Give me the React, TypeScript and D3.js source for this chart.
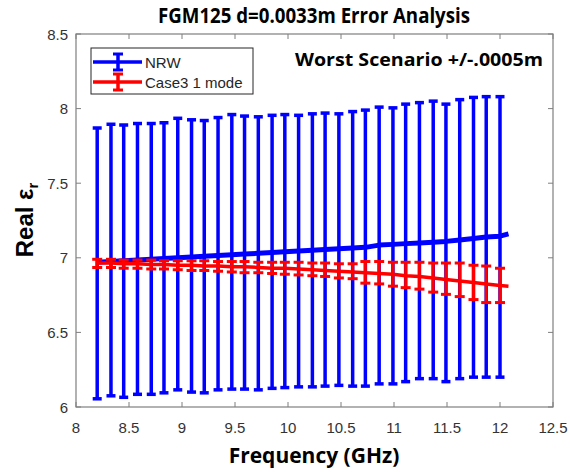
import React from "react";
import * as d3 from "d3";

const title = "FGM125 d=0.0033m Error Analysis";
const annotation = "Worst Scenario +/-.0005m";
const xLabel = "Frequency (GHz)";
const seriesNames = ["NRW", "Case3 1 mode"];

const xTicks = [8, 8.5, 9, 9.5, 10, 10.5, 11, 11.5, 12, 12.5];
const yTicks = [6, 6.5, 7, 7.5, 8, 8.5];

// frequencies at which the error bars are drawn
const barFreqs = [8.2, 8.33, 8.45, 8.58, 8.71, 8.83, 8.96, 9.09, 9.21, 9.34, 9.47, 9.59, 9.72, 9.85, 9.97, 10.1, 10.23, 10.35, 10.48, 10.61, 10.73, 10.86, 10.99, 11.11, 11.24, 11.37, 11.49, 11.62, 11.75, 11.87, 12.0];
// frequencies of the line points (bar points plus the last sample)
const lineFreqs = [8.2, 8.33, 8.45, 8.58, 8.71, 8.83, 8.96, 9.09, 9.21, 9.34, 9.47, 9.59, 9.72, 9.85, 9.97, 10.1, 10.23, 10.35, 10.48, 10.61, 10.73, 10.86, 10.99, 11.11, 11.24, 11.37, 11.49, 11.62, 11.75, 11.87, 12.0, 12.08];

const nrwLine = [6.97, 6.975, 6.98, 6.985, 6.99, 6.995, 7.0, 7.005, 7.01, 7.015, 7.02, 7.025, 7.03, 7.035, 7.04, 7.045, 7.05, 7.055, 7.06, 7.065, 7.07, 7.085, 7.09, 7.095, 7.1, 7.105, 7.11, 7.12, 7.13, 7.14, 7.145, 7.16];
const nrwUpper = [7.87, 7.895, 7.89, 7.9, 7.9, 7.905, 7.935, 7.925, 7.92, 7.94, 7.96, 7.95, 7.945, 7.955, 7.96, 7.955, 7.965, 7.97, 7.965, 7.98, 7.99, 8.01, 8.005, 8.03, 8.04, 8.05, 8.03, 8.06, 8.075, 8.08, 8.08];
const nrwLower = [6.055, 6.075, 6.065, 6.085, 6.085, 6.095, 6.115, 6.1, 6.095, 6.115, 6.12, 6.12, 6.115, 6.125, 6.13, 6.135, 6.135, 6.14, 6.145, 6.14, 6.14, 6.155, 6.155, 6.17, 6.19, 6.19, 6.17, 6.19, 6.2, 6.2, 6.2];

const caseLine = [6.965, 6.965, 6.96, 6.96, 6.955, 6.955, 6.95, 6.95, 6.945, 6.945, 6.94, 6.94, 6.935, 6.93, 6.93, 6.925, 6.92, 6.915, 6.91, 6.905, 6.9, 6.895, 6.89, 6.88, 6.875, 6.865, 6.855, 6.845, 6.835, 6.825, 6.815, 6.81];
const caseUpper = [6.99, 6.99, 6.985, 6.985, 6.985, 6.98, 6.98, 6.98, 6.98, 6.975, 6.975, 6.975, 6.97, 6.97, 6.97, 6.97, 6.965, 6.965, 6.96, 6.96, 6.975, 6.975, 6.97, 6.97, 6.97, 6.965, 6.965, 6.965, 6.95, 6.945, 6.93];
const caseLower = [6.935, 6.935, 6.93, 6.93, 6.925, 6.925, 6.92, 6.915, 6.915, 6.91, 6.905, 6.9, 6.9, 6.895, 6.89, 6.885, 6.88, 6.875, 6.865, 6.86, 6.83, 6.825, 6.81, 6.8, 6.79, 6.77, 6.755, 6.74, 6.72, 6.7, 6.7];

const W = 570;
const H = 472;
const left = 76, right = 553, top = 34, bottom = 407;

export default function App() {
  const x = d3.scaleLinear().domain([8, 12.5]).range([left, right]);
  const y = d3.scaleLinear().domain([6, 8.5]).range([bottom, top]);
  const line = d3.line<number>().x((_, i) => x(lineFreqs[i])).y((d) => y(d));

  const blue = "#0000ff";
  const red = "#ff0000";
  const axisColor = "#7f7f7f";
  const labelColor = "#333333";
  const tickLen = 5;

  const bars = (upper: number[], lower: number[], color: string, capW: number, sw: number) =>
    barFreqs.map((f, i) => {
      const cx = x(f);
      const yt = y(upper[i]);
      const yb = y(lower[i]);
      return (
        <g key={i} stroke={color} strokeWidth={sw} strokeLinecap="butt">
          <line x1={cx} x2={cx} y1={yt} y2={yb} />
          <line x1={cx - capW / 2} x2={cx + capW / 2} y1={yt} y2={yt} />
          <line x1={cx - capW / 2} x2={cx + capW / 2} y1={yb} y2={yb} />
        </g>
      );
    });

  const legendEntry = (cy: number, color: string, label: string) => (
    <g>
      <line x1={93} x2={142} y1={cy} y2={cy} stroke={color} strokeWidth={3.5} />
      <line x1={118} x2={118} y1={cy - 8} y2={cy + 8} stroke={color} strokeWidth={3.5} />
      <line x1={113} x2={123} y1={cy - 8} y2={cy - 8} stroke={color} strokeWidth={3} />
      <line x1={113} x2={123} y1={cy + 8} y2={cy + 8} stroke={color} strokeWidth={3} />
      <text x={145} y={cy + 5.5} fontSize={15} fill="#262626" fontFamily="Liberation Sans, Arial, sans-serif">
        {label}
      </text>
    </g>
  );

  return (
    <svg width={W} height={H} style={{ position: "absolute", left: 0, top: 0, background: "#fff" }}>
      <rect x={0} y={0} width={W} height={H} fill="#ffffff" />
      <defs>
        <clipPath id="plotclip">
          <rect x={left} y={top} width={right - left} height={bottom - top} />
        </clipPath>
      </defs>

      {/* data */}
      <g clipPath="url(#plotclip)">
        {bars(nrwUpper, nrwLower, blue, 9, 3.5)}
        <path d={line(nrwLine) || ""} fill="none" stroke={blue} strokeWidth={5} strokeLinejoin="round" />
        {bars(caseUpper, caseLower, red, 10, 3)}
        <path d={line(caseLine) || ""} fill="none" stroke={red} strokeWidth={3.5} strokeLinejoin="round" />
      </g>

      {/* axes box */}
      <rect x={left} y={top} width={right - left} height={bottom - top} fill="none" stroke={axisColor} strokeWidth={1.2} />
      {xTicks.map((t) => (
        <g key={"xt" + t}>
          <line x1={x(t)} x2={x(t)} y1={bottom} y2={bottom - tickLen} stroke={axisColor} />
          <line x1={x(t)} x2={x(t)} y1={top} y2={top + tickLen} stroke={axisColor} />
          <text x={x(t)} y={433} textAnchor="middle" fontSize={15} fill={labelColor} fontFamily="Liberation Sans, Arial, sans-serif">
            {t}
          </text>
        </g>
      ))}
      {yTicks.map((t) => (
        <g key={"yt" + t}>
          <line x1={left} x2={left + tickLen} y1={y(t)} y2={y(t)} stroke={axisColor} />
          <line x1={right} x2={right - tickLen} y1={y(t)} y2={y(t)} stroke={axisColor} />
          <text x={68} y={y(t) + 5.5} textAnchor="end" fontSize={15} fill={labelColor} fontFamily="Liberation Sans, Arial, sans-serif">
            {t}
          </text>
        </g>
      ))}

      {/* legend */}
      <rect x={91} y={48} width={162} height={46} fill="#ffffff" stroke="#262626" strokeWidth={1} />
      {legendEntry(62, blue, seriesNames[0])}
      {legendEntry(82, red, seriesNames[1])}

      {/* annotation */}
      <text x={543} y={66} textAnchor="end" fontSize={18} fontWeight="bold" fill="#000" fontFamily="Open Sans, sans-serif" textLength={248} lengthAdjust="spacingAndGlyphs">
        {annotation}
      </text>

      {/* title */}
      <text x={314} y={23} textAnchor="middle" fontSize={22} fontWeight="bold" fill="#000" fontFamily="Open Sans, sans-serif" textLength={312} lengthAdjust="spacingAndGlyphs">
        {title}
      </text>

      {/* x label */}
      <text x={314} y={463} textAnchor="middle" fontSize={21} fontWeight="bold" fill="#000" fontFamily="Open Sans, sans-serif">
        {xLabel}
      </text>

      {/* y label */}
      <text transform="translate(33,220) rotate(-90)" textAnchor="middle" fontSize={24} fontWeight="bold" fill="#000" fontFamily="Liberation Sans, Arial, sans-serif">
        Real ε<tspan fontSize={15} dy={5}>r</tspan>
      </text>
    </svg>
  );
}
